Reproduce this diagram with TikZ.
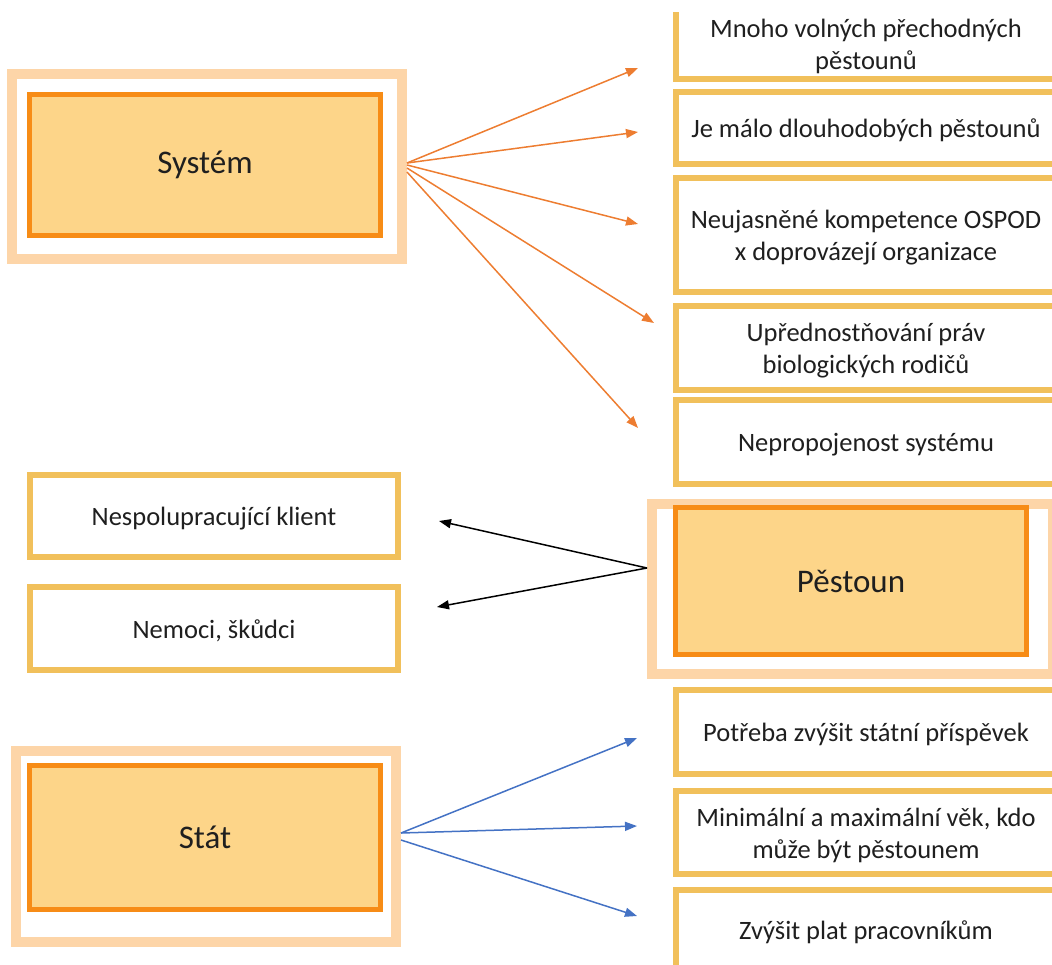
\documentclass[tikz,border=0pt]{standalone}
\usepackage{fontspec}
\setmainfont{Carlito}
\usetikzlibrary{arrows.meta}

\definecolor{haloc}{HTML}{FDD5A8}
\definecolor{corefill}{HTML}{FDD589}
\definecolor{coreline}{HTML}{F78C16}
\definecolor{itemline}{HTML}{F1C05B}
\definecolor{arrorange}{HTML}{ED7D31}
\definecolor{arrblue}{HTML}{4472C4}
\definecolor{txt}{HTML}{1F1F1F}

% centred lines, lowered a little inside the box while keeping the box size
\newcommand{\cellstack}[1]{\raisebox{-3.5pt}[\height][\depth]{\begin{tabular}[t]{@{}c@{}}#1\end{tabular}}}

\begin{document}
\begin{tikzpicture}[x=1pt,y=-1pt,
  every node/.style={inner sep=0pt,text=txt},
  haloframe/.style={draw=haloc,line width=10pt,fill=white},
  core/.style={draw=coreline,line width=5pt,fill=corefill,
    font=\fontsize{33}{40}\selectfont},
  item/.style={draw=itemline,line width=6pt,fill=white,
    font=\fontsize{26.5}{32}\selectfont},
  link/.style={line width=1.5pt,-{Triangle[length=12pt,width=9pt]}}]

\useasboundingbox (0,0) rectangle (1052,964);
\clip (0,0) rectangle (1052,964);

% --- Systém and its consequences ---
\node[haloframe,minimum width=390pt,minimum height=185pt] (sysout) at (207,166.5) {};
\node[core,minimum width=351pt,minimum height=141pt] (sys) at (205,165) {Systém};

\begin{scope}
  \clip (600,12) rectangle (1052,100);
  \node[item,minimum width=380pt,minimum height=71pt] (s1) at (866,43.5)
    {\cellstack{Mnoho volných přechodných\\pěstounů}};
\end{scope}
\node[item,minimum width=380pt,minimum height=72pt] (s2) at (866,128)
  {\cellstack{Je málo dlouhodobých pěstounů}};
\node[item,minimum width=380pt,minimum height=114pt] (s3) at (866,235)
  {\cellstack{Neujasněné kompetence OSPOD\\x doprovázejí organizace}};
\node[item,minimum width=380pt,minimum height=84pt] (s4) at (866,348)
  {\cellstack{Upřednostňování práv\\biologických rodičů}};
\node[item,minimum width=380pt,minimum height=84pt] (s5) at (866,442)
  {\cellstack{Nepropojenost systému}};

\coordinate (t1) at (638,68);
\coordinate (t2) at (638,132);
\coordinate (t3) at (638,224);
\coordinate (t4) at (654,323);
\coordinate (t5) at (638,428);

\draw[link,arrorange] ([yshift=3.5pt]sysout.east) -- (t1);
\draw[link,arrorange] ([yshift=3.5pt]sysout.east) -- (t2);
\draw[link,arrorange] ([yshift=1.5pt]sysout.east) -- (t3);
\draw[link,arrorange] ([yshift=-1.5pt]sysout.east) -- (t4);
\draw[link,arrorange] ([yshift=-5.5pt]sysout.east) -- (t5);

% --- Pěstoun and its problems ---
\node[item,minimum width=368pt,minimum height=82pt] (p1) at (214,516)
  {\cellstack{Nespolupracující klient}};
\node[item,minimum width=368pt,minimum height=83pt] (p2) at (214,628.5)
  {\cellstack{Nemoci, škůdci}};

\node[haloframe,minimum width=401pt,minimum height=170pt] (pesout) at (852.5,589) {};
\node[core,minimum width=351pt,minimum height=147pt] (pes) at (851,581) {Pěstoun};

\coordinate (q1) at (439,521);
\coordinate (q2) at (437,607);
\draw[link,black] ([yshift=21pt]pesout.west) -- (q1);
\draw[link,black] ([yshift=21pt]pesout.west) -- (q2);

% --- Stát and its tasks ---
\node[item,minimum width=380pt,minimum height=84pt] (z1) at (866,732)
  {\cellstack{Potřeba zvýšit státní příspěvek}};
\node[item,minimum width=380pt,minimum height=83pt] (z2) at (866,832.5)
  {\cellstack{Minimální a maximální věk, kdo\\může být pěstounem}};
\node[item,minimum width=380pt,minimum height=80pt] (z3) at (866,930)
  {\cellstack{Zvýšit plat pracovníkům}};

\node[haloframe,minimum width=380pt,minimum height=191pt] (statout) at (206,846.5) {};
\node[core,minimum width=351pt,minimum height=144pt] (stat) at (205,837.5) {Stát};

\coordinate (u1) at (637,738);
\coordinate (u2) at (637,826);
\coordinate (u3) at (637,916);
\draw[link,arrblue] ([yshift=13.5pt]statout.east) -- (u1);
\draw[link,arrblue] ([yshift=13.5pt]statout.east) -- (u2);
\draw[link,arrblue] ([yshift=6.5pt]statout.east) -- (u3);
\end{tikzpicture}
\end{document}
